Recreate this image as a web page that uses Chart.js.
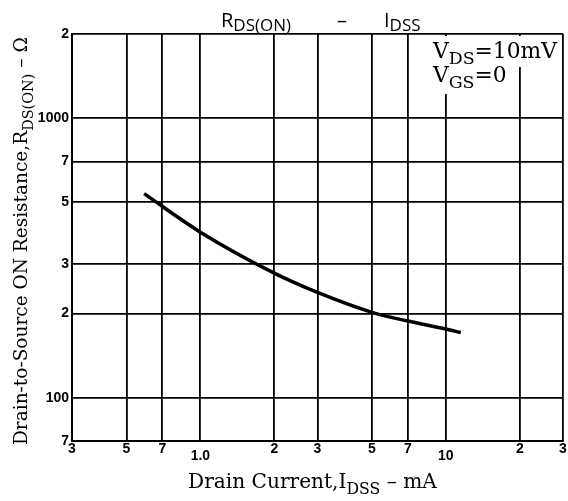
<!DOCTYPE html>
<html>
<head>
<meta charset="utf-8">
<script src="https://cdn.jsdelivr.net/npm/chart.js@4.4.1/dist/chart.umd.min.js"></script>
<style>
  html, body { margin: 0; padding: 0; background: #fff; }
  #wrap { width: 568px; height: 501px; }
</style>
</head>
<body>
<div id="wrap"><canvas id="chart"></canvas></div>
<script>
// drain current (mA) and on-resistance (ohm)
const currentMA = [0.59, 1.0, 2, 3, 5, 7, 10, 11.5];
const resistance = [537, 391, 279, 238, 202, 188, 176, 171];

const xTicks = [0.3, 0.5, 0.7, 1, 2, 3, 5, 7, 10, 20, 30];
const xTickLabels = ['3', '5', '7', ['', '1.0'], '2', '3', '5', '7', ['', '10'], '2', '3'];
const yTicks = [70, 100, 200, 300, 500, 700, 1000, 2000];
const yTickLabels = ['7', '100', '2', '3', '5', '7', '1000', '2'];

const SERIF = '"DejaVu Serif", "Liberation Serif", serif';
const SANS = '"Open Sans", "DejaVu Sans", sans-serif';

// width of a row of text pieces (normal + subscript)
function runsWidth(ctx, runs) {
    let w = 0;
    for (const r of runs) {
        ctx.font = r.font;
        w += ctx.measureText(r.t).width;
    }
    return w;
}

function drawRuns(ctx, runs, x, y) {
    let cx = x;
    for (const r of runs) {
        ctx.font = r.font;
        ctx.fillText(r.t, cx, y + (r.dy || 0));
        cx += ctx.measureText(r.t).width;
    }
}

// pick a font size so that the row is the wanted width
function fitRuns(ctx, make, target) {
    const w = runsWidth(ctx, make(20));
    return make(20 * target / w);
}

const textPlugin = {
    id: 'textPlugin',
    afterDraw(chart) {
        const ctx = chart.ctx;
        const area = chart.chartArea;
        ctx.save();
        ctx.fillStyle = '#000';
        ctx.textBaseline = 'alphabetic';
        ctx.textAlign = 'left';

        // title
        drawRuns(ctx, [
            { t: 'R', font: `20px ${SANS}` },
            { t: 'DS(ON)', font: `17px ${SANS}`, dy: 4 }
        ], 221, 27);
        drawRuns(ctx, [{ t: '–', font: `20px ${SANS}` }], 337, 27);
        drawRuns(ctx, [
            { t: 'I', font: `20px ${SANS}` },
            { t: 'DSS', font: `17px ${SANS}`, dy: 4 }
        ], 384, 27);

        // conditions box in the top right corner
        const line1 = fitRuns(ctx, s => [
            { t: 'V', font: `${s}px ${SERIF}` },
            { t: 'DS', font: `${s * 0.8}px ${SERIF}`, dy: s * 0.28 },
            { t: '=10mV', font: `${s}px ${SERIF}` }
        ], 124);
        const fs = parseFloat(line1[0].font);
        const line2 = [
            { t: 'V', font: `${fs}px ${SERIF}` },
            { t: 'GS', font: `${fs * 0.8}px ${SERIF}`, dy: fs * 0.28 },
            { t: '=0', font: `${fs}px ${SERIF}` }
        ];
        ctx.fillStyle = '#fff';
        ctx.fillRect(430, area.top + 2, area.right - 431, 31);
        ctx.fillRect(430, area.top + 30, 76, 30);
        ctx.fillStyle = '#000';
        drawRuns(ctx, line1, 433, 58);
        drawRuns(ctx, line2, 433, 82);

        // x axis title
        const xt = fitRuns(ctx, s => [
            { t: 'Drain Current,I', font: `${s}px ${SERIF}` },
            { t: 'DSS', font: `${s * 0.78}px ${SERIF}`, dy: s * 0.3 },
            { t: ' – mA', font: `${s}px ${SERIF}` }
        ], 249);
        drawRuns(ctx, xt, 188, 488);

        // y axis title, rotated
        const yt = fitRuns(ctx, s => [
            { t: 'Drain-to-Source ON Resistance,R', font: `${s}px ${SERIF}` },
            { t: 'DS(ON)', font: `${s * 0.78}px ${SERIF}`, dy: s * 0.3 },
            { t: ' – Ω', font: `${s}px ${SERIF}` }
        ], 408);
        ctx.translate(27, 445);
        ctx.rotate(-Math.PI / 2);
        drawRuns(ctx, yt, 0, 0);
        ctx.restore();
    }
};

new Chart(document.getElementById('chart'), {
    type: 'line',
    data: {
        datasets: [{
            data: currentMA.map((x, i) => ({ x: x, y: resistance[i] })),
            borderColor: '#000',
            borderWidth: 3.5,
            pointRadius: 0,
            cubicInterpolationMode: 'monotone',
            fill: false
        }]
    },
    options: {
        responsive: true,
        maintainAspectRatio: false,
        animation: false,
        layout: { padding: { top: 34, right: 5, left: 0, bottom: 0 } },
        plugins: {
            legend: { display: false },
            tooltip: { enabled: false }
        },
        scales: {
            x: {
                type: 'logarithmic',
                min: 0.3,
                max: 30,
                afterBuildTicks: s => { s.ticks = xTicks.map(v => ({ value: v })); },
                afterFit: s => { s.height = 60; s.paddingRight = 0; s.paddingLeft = 0; },
                grid: { color: '#000', lineWidth: 1.8, drawTicks: false },
                border: { color: '#000', width: 2 },
                ticks: {
                    autoSkip: false,
                    maxRotation: 0,
                    padding: 5,
                    color: '#000',
                    font: { family: '"Liberation Sans", sans-serif', size: 14, weight: 'bold', lineHeight: 0.5 },
                    callback: (v, i) => xTickLabels[i]
                }
            },
            y: {
                type: 'logarithmic',
                min: 70,
                max: 2000,
                afterBuildTicks: s => { s.ticks = yTicks.map(v => ({ value: v })); },
                afterFit: s => { s.width = 72; },
                grid: { color: '#000', lineWidth: 1.8, drawTicks: false },
                border: { color: '#000', width: 2 },
                ticks: {
                    autoSkip: false,
                    padding: 3,
                    color: '#000',
                    font: { family: '"Liberation Sans", sans-serif', size: 14, weight: 'bold' },
                    callback: (v, i) => yTickLabels[i]
                }
            }
        }
    },
    plugins: [textPlugin]
});
</script>
</body>
</html>
